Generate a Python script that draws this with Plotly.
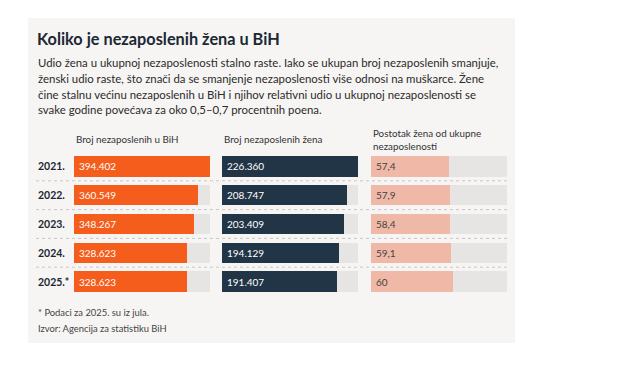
import plotly.graph_objects as go

# page offset of the figure (body margin) compensated in coordinates
OFF = 8
W, H = 636 - OFF, 365 - OFF

years = ["2021.", "2022.", "2023.", "2024.", "2025.*"]
total_unemployed = [394402, 360549, 348267, 328623, 328623]
total_labels = ["394.402", "360.549", "348.267", "328.623", "328.623"]
women_unemployed = [226360, 208747, 203409, 194129, 191407]
women_labels = ["226.360", "208.747", "203.409", "194.129", "191.407"]
women_share = [57.4, 57.9, 58.4, 59.1, 60]
share_labels = ["57,4", "57,9", "58,4", "59,1", "60"]
share_max = 100

column_titles = ["Broj nezaposlenih u BiH", "Broj nezaposlenih žena",
                 "Postotak žena od ukupne<br>nezaposlenosti"]

title = "Koliko je nezaposlenih žena u BiH"
subtitle_lines = [
    "Udio žena u ukupnoj nezaposlenosti stalno raste. Iako se ukupan broj nezaposlenih smanjuje,",
    "ženski udio raste, što znači da se smanjenje nezaposlenosti više odnosi na muškarce. Žene",
    "čine stalnu većinu nezaposlenih u BiH i njihov relativni udio u ukupnoj nezaposlenosti se",
    "svake godine povećava za oko 0,5–0,7 procentnih poena.",
]
notes = ["* Podaci za 2025. su iz jula.", "Izvor: Agencija za statistiku BiH"]

FONT = "Lato"
PANEL = "#f6f5f3"
TRACK = "#e6e5e3"
ORANGE = "#f55d1c"
NAVY = "#213547"
SALMON = "#f0b8a6"
DARK = "#1c2833"
TEXT = "#2b2b2b"

def px(x):
    return (x - OFF) / W

def py(y):
    return 1 - (y - OFF) / H

fig = go.Figure()

cols = [
    (total_unemployed, total_labels, max(total_unemployed), ORANGE, "white", 74, 210),
    (women_unemployed, women_labels, max(women_unemployed), NAVY, "white", 222, 358),
    (women_share, share_labels, share_max, SALMON, "#444444", 371, 507),
]

ydom = [py(296), py(152)]
annotations = []
for i, (vals, labels, vmax, color, tcolor, x0, x1) in enumerate(cols):
    ax = "" if i == 0 else str(i + 1)
    fig.add_trace(go.Bar(
        y=years, x=[vmax] * len(years), orientation="h",
        marker=dict(color=TRACK, line=dict(width=0)), width=0.71,
        xaxis="x" + ax, yaxis="y" + ax, hoverinfo="skip", showlegend=False,
    ))
    fig.add_trace(go.Bar(
        y=years, x=vals, orientation="h",
        marker=dict(color=color, line=dict(width=0)), width=0.71,
        xaxis="x" + ax, yaxis="y" + ax, showlegend=False,
    ))
    fig.layout["xaxis" + ax] = dict(domain=[px(x0), px(x1)], range=[0, vmax],
                                   visible=False, fixedrange=True)
    fig.layout["yaxis" + ax] = dict(domain=ydom, type="category",
                                   categoryorder="array", categoryarray=years,
                                   range=[len(years) - 0.5, -0.5], visible=False,
                                   anchor="x" + ax)
    for k, lab in enumerate(labels):
        annotations.append(dict(
            x=0, y=k, xref="x" + ax, yref="y" + ax, text=lab, showarrow=False,
            xanchor="left", xshift=3, yanchor="middle",
            font=dict(family=FONT, size=10, color=tcolor),
        ))
    annotations.append(dict(
        x=px(x0), y=py(139), xref="paper", yref="paper",
        text=column_titles[i], showarrow=False, xanchor="left", yanchor="middle",
        align="left", font=dict(family=FONT, size=9.8, color="#333333"),
    ))

for k, y in enumerate(years):
    annotations.append(dict(
        x=px(36), y=k, xref="paper", yref="y", text="<b>%s</b>" % y,
        showarrow=False, xanchor="left", yanchor="middle",
        font=dict(family=FONT, size=10.5, color=DARK),
    ))

annotations.append(dict(x=px(35), y=py(38), xref="paper", yref="paper",
                        text="<b>%s</b>" % title, showarrow=False,
                        xanchor="left", yanchor="middle",
                        font=dict(family=FONT, size=16.3, color=DARK)))
for k, line in enumerate(subtitle_lines):
    annotations.append(dict(x=px(36), y=py(62.5 + 15.8 * k), xref="paper", yref="paper",
                            text=line, showarrow=False, xanchor="left", yanchor="middle",
                            font=dict(family=FONT, size=11.4, color=TEXT)))
for k, line in enumerate(notes):
    annotations.append(dict(x=px(36), y=py(312 + 16 * k), xref="paper", yref="paper",
                            text=line, showarrow=False, xanchor="left", yanchor="middle",
                            font=dict(family=FONT, size=9.4, color="#444444")))

shapes = [dict(type="rect", xref="paper", yref="paper", x0=px(28), x1=px(515),
               y0=py(343), y1=py(18), fillcolor=PANEL, line=dict(width=0), layer="below")]
for k in range(len(years) - 1):
    shapes.append(dict(type="line", xref="paper", yref="y", x0=px(36), x1=px(507),
                       y0=k + 0.5, y1=k + 0.5,
                       line=dict(color="#c8c8c8", width=1, dash="dot")))

fig.update_layout(
    width=W, height=H, margin=dict(l=0, r=0, t=0, b=0),
    paper_bgcolor="white", plot_bgcolor="rgba(0,0,0,0)",
    barmode="overlay", bargap=0, annotations=annotations, shapes=shapes,
    showlegend=False,
)

fig.write_html("out.html", config={"displayModeBar": False})
